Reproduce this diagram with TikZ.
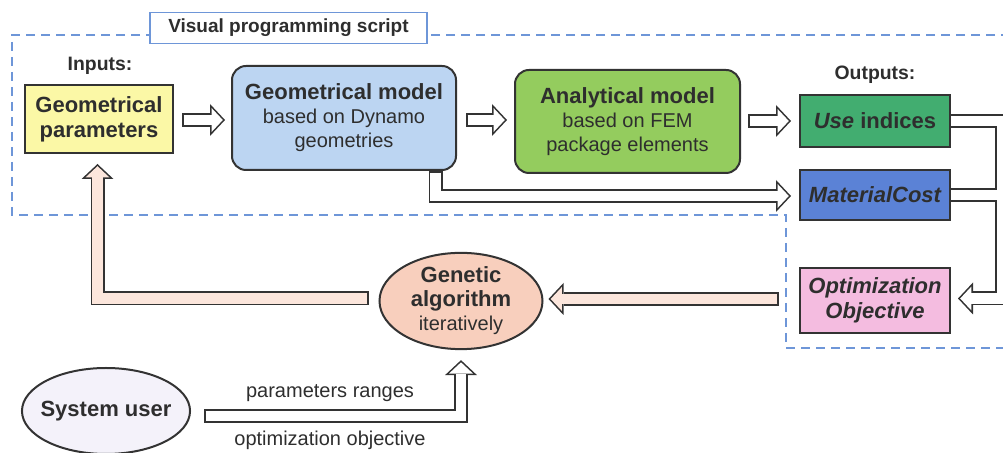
\documentclass[tikz,border=0pt]{standalone}
\usepackage{fontspec}
\setmainfont{Liberation Sans}
\usetikzlibrary{shapes.geometric,arrows.meta,calc}

\definecolor{textgray}{HTML}{2E2E2E}
\definecolor{linegray}{HTML}{333333}
\definecolor{frameblue}{HTML}{6E96D8}
\definecolor{inyellow}{HTML}{FBF8A6}
\definecolor{geoblue}{HTML}{BCD5F2}
\definecolor{anagreen}{HTML}{94CC5E}
\definecolor{usegreen}{HTML}{42AD70}
\definecolor{costblue}{HTML}{5B82D6}
\definecolor{optpink}{HTML}{F4BCE0}
\definecolor{gasalmon}{HTML}{F8CFBD}
\definecolor{arrowpink}{HTML}{FCE6DC}
\definecolor{userlilac}{HTML}{F4F2FA}

\tikzset{
  arrout/.style={line width=7pt, draw=linegray, line join=miter},
  arrin/.style={line width=5.4pt, line join=miter},
  tipout/.style={-{Triangle[length=7.5pt,width=16pt,line width=0pt]}},
  tipin/.style={-{Triangle[length=5.6pt,width=11.95pt,line width=0pt]}, shorten >=1.1pt, shorten <=0.8pt}
}

% hollow block arrow: outline first, then the filled core
\newcommand{\hollowarrow}[2][white]{%
  \draw[arrout, tipout] #2;
  \draw[arrin, tipin, draw=#1] #2;
}

\begin{document}
\begin{tikzpicture}[x=0.5pt, y=-0.5pt,
    every node/.style={text=textgray, font=\fontsize{10}{12}\selectfont},
    box/.style={draw=linegray, line width=1pt, align=center, inner sep=0pt},
    head/.style={font=\bfseries\fontsize{11}{12.5}\selectfont},
    label/.style={font=\bfseries\fontsize{9.7}{11}\selectfont}]
  \useasboundingbox (0,0) rectangle (1003,453);

  % script frame
  \draw[frameblue, line width=0.7pt, dash pattern=on 4.5pt off 3pt]
    (1010,35) -- (12,35) -- (12,215) -- (786,215) -- (786,348) -- (1010,348);
  \node[draw=frameblue, line width=0.8pt, fill=white, minimum width=138.5pt, minimum height=15pt,
        font=\bfseries\fontsize{9.5}{11}\selectfont] (script) at (288.5,28) {Visual programming script};

  % inputs and models
  \node[label] (inputs) at (100,66) {Inputs:};
  \node[box, head, fill=inyellow, minimum width=74pt, minimum height=34pt] (gparam) at (99,119)
    {Geometrical\\parameters};
  \node[box, fill=geoblue, rounded corners=7pt, minimum width=112pt, minimum height=52pt] (gmodel) at (344,118)
    {{\bfseries\fontsize{11}{12}\selectfont Geometrical model}\\based on Dynamo\\geometries};
  \node[box, fill=anagreen, rounded corners=7pt, minimum width=112.5pt, minimum height=51.5pt] (amodel) at (627.5,121.5)
    {{\bfseries\fontsize{11}{12}\selectfont Analytical model}\\based on FEM\\package elements};

  % outputs
  \node[label] (outputs) at (875,75) {Outputs:};
  \node[box, head, fill=usegreen, minimum width=75pt, minimum height=26pt] (usei) at (875,121)
    {\textit{Use} indices};
  \node[box, head, fill=costblue, minimum width=75pt, minimum height=25pt] (matc) at (875,195)
    {\itshape MaterialCost};
  \node[box, head, fill=optpink, minimum width=75pt, minimum height=32.5pt] (optobj) at (875,300.5)
    {\itshape Optimization\\\itshape Objective};

  % optimizer and user
  \node[box, ellipse, fill=gasalmon, minimum width=81.5pt, minimum height=43.5pt] (genetic) at (461,301)
    {{\bfseries\fontsize{11}{12.5}\selectfont Genetic}\\{\bfseries\fontsize{11}{12.5}\selectfont algorithm}\\iteratively};
  \node[box, ellipse, fill=userlilac, inner xsep=-3pt, minimum width=83pt, minimum height=43pt,
        font=\bfseries\fontsize{11}{12}\selectfont] (sysuser) at (106,411) {System user};

  \node (ranges) at (330,393) {parameters ranges};
  \node (objective) at (330,440) {optimization objective};

  % main chain
  \hollowarrow{($(gparam.east)+(8,1)$) -- ($(gmodel.west)+(-6,2)$)}
  \hollowarrow{($(gmodel.east)+(9,2)$) -- ($(amodel.west)+(-7,-1.5)$)}
  \hollowarrow{($(amodel.east)+(7,-0.5)$) -- ($(usei.west)+(-8,0)$)}
  \hollowarrow{($(gmodel.south east)+(-21.5,0)$) |- ($(matc.west)+(-8,1)$)}

  % outputs merge into the objective
  \draw[arrout, tipout] (usei.east) -| ($(optobj.east)+(51,-2)$) -- ($(optobj.east)+(7,-2)$);
  \draw[arrout] (matc.east) -- ($(matc.east)+(51,0)$);
  \draw[arrin, draw=white, -{Triangle[length=5.6pt,width=11.95pt,line width=0pt]}, shorten >=1.1pt]
    (usei.east) -| ($(optobj.east)+(51,-2)$) -- ($(optobj.east)+(7,-2)$);
  \draw[arrin, draw=white] (matc.east) -- ($(matc.east)+(51,0)$);

  % feedback loop
  \hollowarrow[arrowpink]{($(optobj.west)+(-20,-1.5)$) -- ($(genetic.east)+(5,-2)$)}
  \hollowarrow[arrowpink]{($(genetic.west)+(-9.5,-2.5)$) -| ($(gparam.south)+(-1.5,10)$)}
  \hollowarrow{($(sysuser.east)+(13,5)$) -| ($(genetic.south)+(0,10)$)}
\end{tikzpicture}
\end{document}
